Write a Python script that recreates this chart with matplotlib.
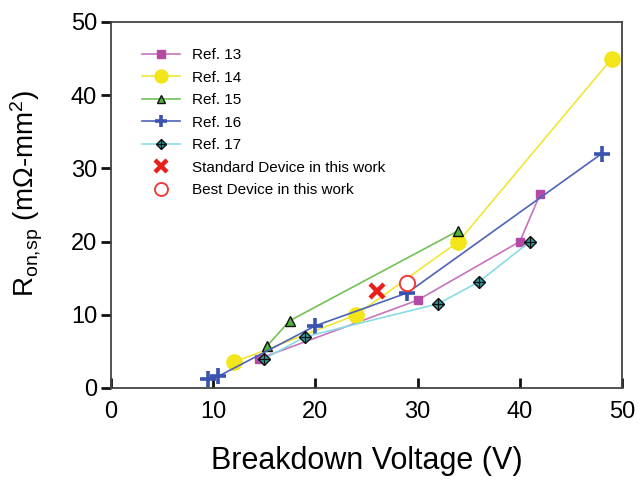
import matplotlib
matplotlib.use('Agg')
import matplotlib.pyplot as plt

plt.rcParams['font.family'] = ['Liberation Sans', 'DejaVu Sans']
plt.rcParams['mathtext.default'] = 'regular'

# data (Breakdown Voltage [V], Ron,sp [mOhm-mm2])
ref13_x = [14.5, 30, 40, 42]
ref13_y = [4.0, 12.0, 20.0, 26.5]
ref14_x = [12, 24, 34, 49]
ref14_y = [3.5, 10.0, 20.0, 45.0]
ref15_x = [15.3, 17.5, 34]
ref15_y = [5.8, 9.2, 21.5]
ref16_x = [9.5, 10.5, 20, 29, 48]
ref16_y = [1.2, 1.6, 8.5, 13.0, 32.0]
ref17_x = [15, 19, 32, 36, 41]
ref17_y = [4.0, 7.0, 11.5, 14.5, 20.0]
std_x, std_y = [26], [13.3]
best_x, best_y = [29], [14.3]

fig = plt.figure(figsize=(6.38, 4.8), dpi=100)
ax = fig.add_axes([111 / 638, 1 - 388 / 480, 511 / 638, 366 / 480])

h13, = ax.plot(ref13_x, ref13_y, color='#c873c0', lw=1.2, marker='s', ms=6,
               mfc='#b44aa6', mec='#b44aa6', label='Ref. 13')
h14, = ax.plot(ref14_x, ref14_y, color='#f0e635', lw=1.2, marker='o', ms=11,
               mfc='#f2e61a', mec='#f2e61a', label='Ref. 14')
h15, = ax.plot(ref15_x, ref15_y, color='#72c255', lw=1.2, marker='^', ms=7,
               mfc='#4fb43c', mec='#111111', mew=1.0, label='Ref. 15')
h16, = ax.plot(ref16_x, ref16_y, color='#4c63b9', lw=1.2, marker='+', ms=11,
               mec='#3a52b0', mew=2.6, label='Ref. 16')
h17, = ax.plot(ref17_x, ref17_y, color='#8adbe6', lw=1.2, marker='D', ms=6,
               mfc='#2f9c9e', mec='#111111', mew=1.0)
h17b, = ax.plot(ref17_x, ref17_y, ls='none', marker='+', ms=8, mec='#111111', mew=0.9)
hstd, = ax.plot(std_x, std_y, ls='none', marker='x', ms=10, mec='#e8201c', mew=3.2,
                zorder=5)
hbest, = ax.plot(best_x, best_y, ls='none', marker='o', ms=11, mfc='white',
                 mec='#f03c3c', mew=1.4, zorder=5)

ax.set_xlim(0, 50)
ax.set_ylim(0, 50)
ax.set_xticks([0, 10, 20, 30, 40, 50])
ax.set_yticks([0, 10, 20, 30, 40, 50])
ax.tick_params(axis='x', direction='in', length=7, width=2, labelsize=17, pad=9,
               color='#111111')
ax.tick_params(axis='y', direction='out', length=7, width=2, labelsize=17, pad=3,
               color='#111111')
for s in ax.spines.values():
    s.set_color('#444444')
    s.set_linewidth(1.3)

ax.set_xlabel('Breakdown Voltage (V)', fontsize=22, labelpad=17)
ax.set_ylabel('R$_{on,\\!sp}$ (m\u03a9-mm$^{2}$)', fontsize=20)
ax.yaxis.set_label_coords(-0.13, 0.53)

ax.legend([h13, h14, h15, h16, (h17, h17b), hstd, hbest],
          ['Ref. 13', 'Ref. 14', 'Ref. 15', 'Ref. 16', 'Ref. 17',
           'Standard Device in this work', 'Best Device in this work'],
          loc='upper left', bbox_to_anchor=(0.06, 0.929), frameon=False,
          fontsize=11, handlelength=2.5, handletextpad=0.8, labelspacing=0.56,
          borderpad=0, borderaxespad=0, markerscale=0.85)

fig.savefig('out.png', dpi=100)
